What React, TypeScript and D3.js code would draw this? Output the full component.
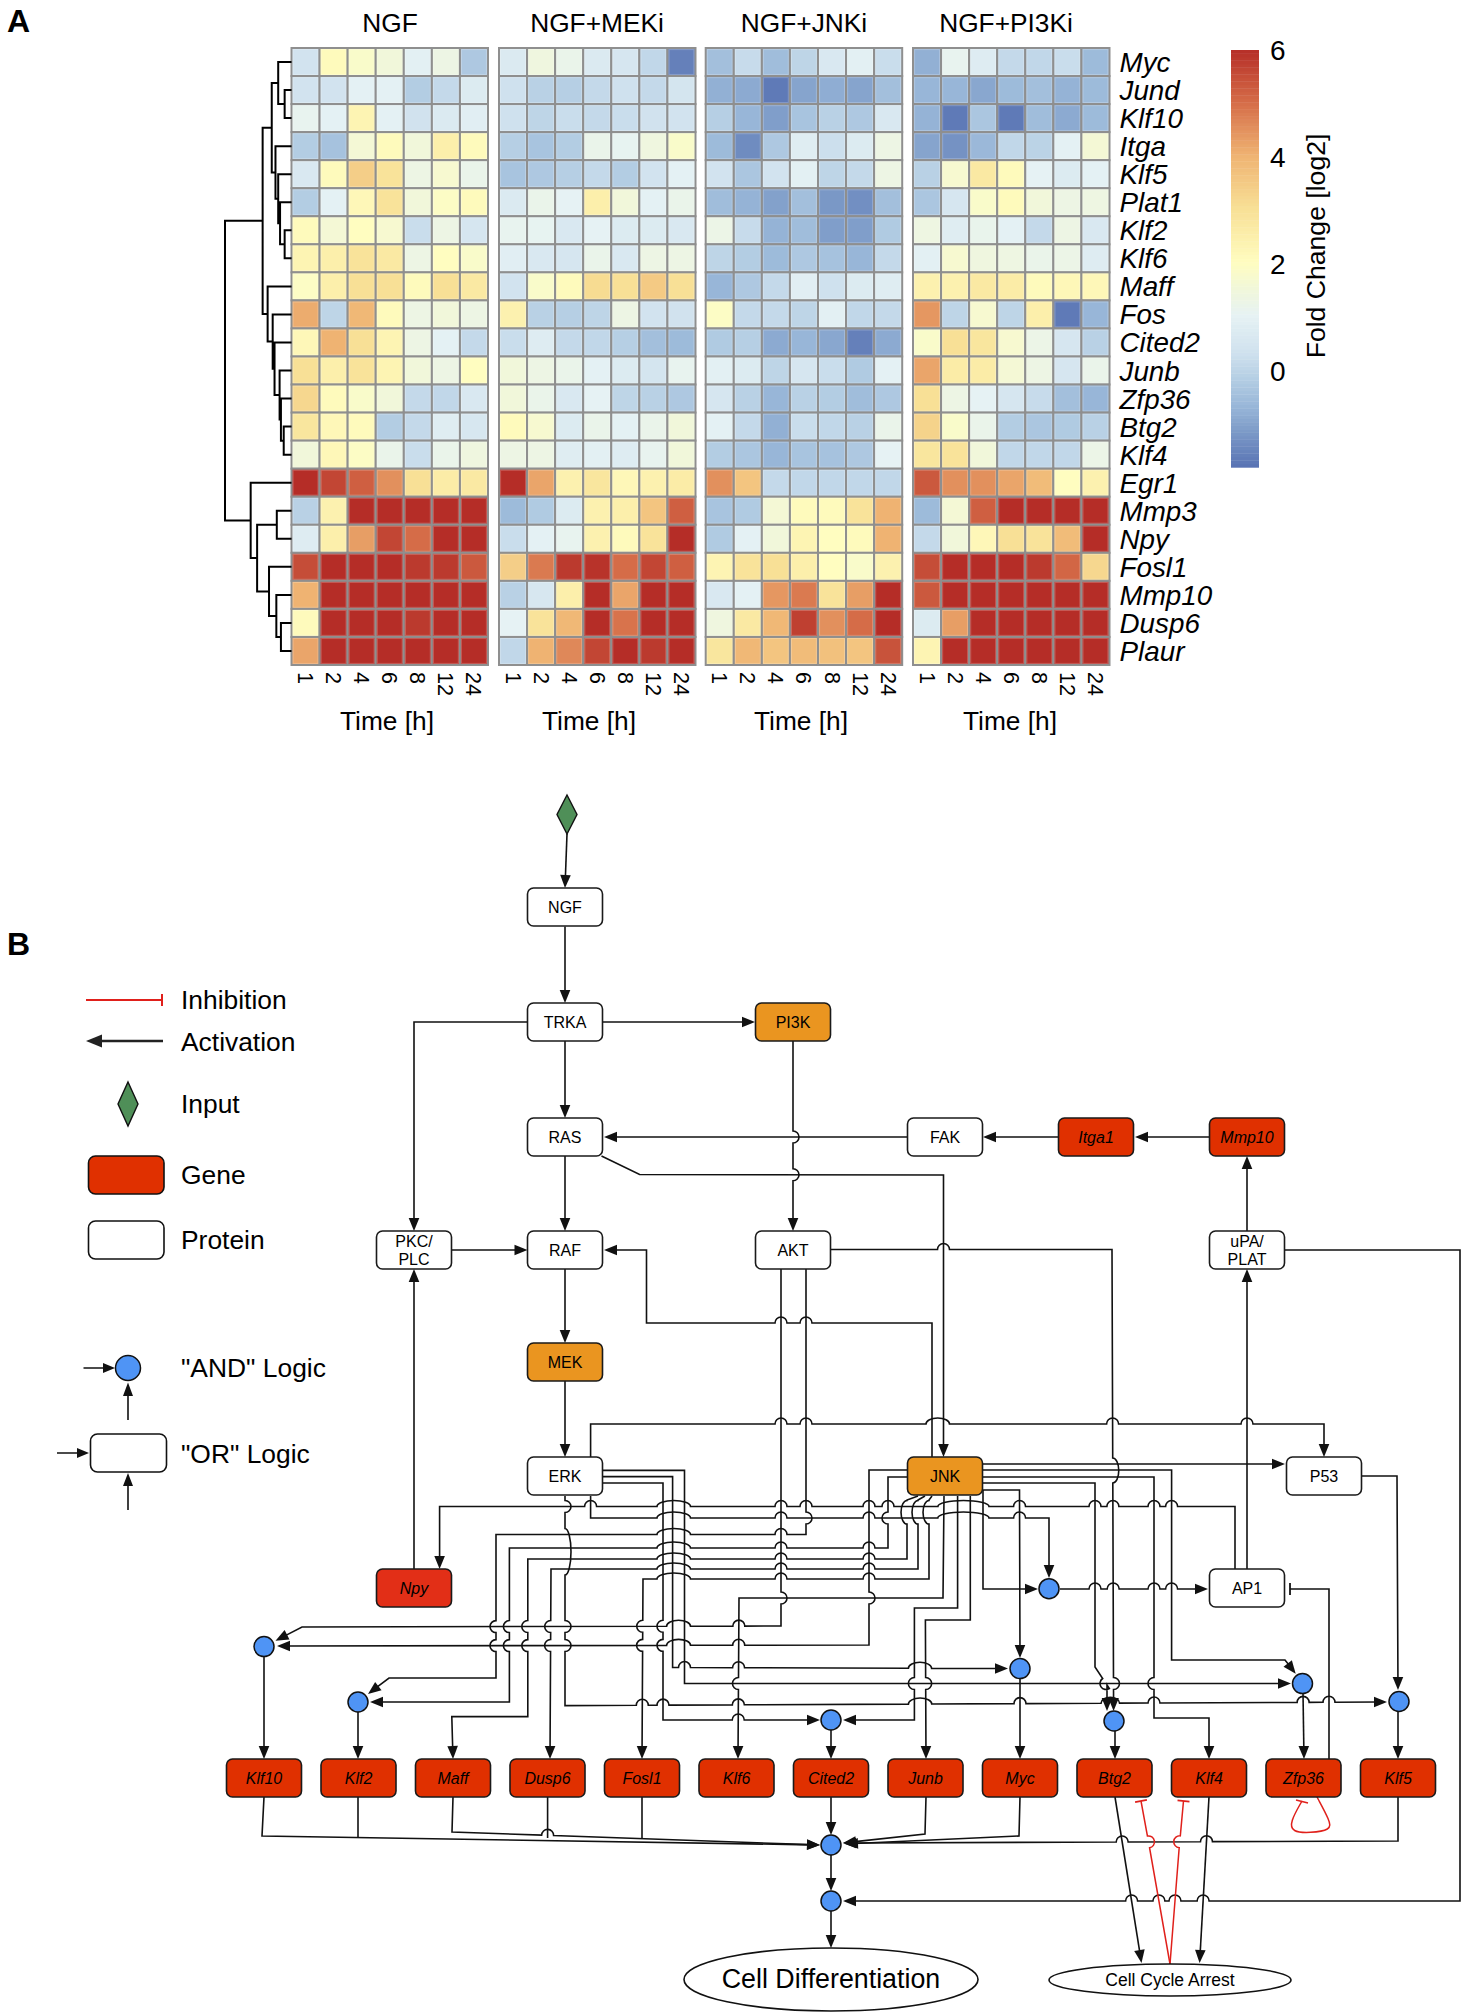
import * as d3 from 'd3'

const FONT = '"Liberation Sans", Arial, sans-serif'

// ---- Panel A data ----
const heatGenes = ['Myc', 'Jund', 'Klf10', 'Itga', 'Klf5', 'Plat1', 'Klf2', 'Klf6', 'Maff', 'Fos', 'Cited2', 'Junb', 'Zfp36', 'Btg2', 'Klf4', 'Egr1', 'Mmp3', 'Npy', 'Fosl1', 'Mmp10', 'Dusp6', 'Plaur']
const timePoints = ['1', '2', '4', '6', '8', '12', '24']
const conditions = ['NGF', 'NGF+MEKi', 'NGF+JNKi', 'NGF+PI3Ki']

const valuesNGF = [
  [0.4, 2.1, 1.8, 1.5, 0.9, 1.3, -0.3],
  [0.4, 0.4, 0.95, 0.95, -0.2, 0.1, 0.7],
  [1.1, 0.95, 2.3, 0.95, 0.35, 0.65, 0.85],
  [-0.2, -0.45, 1.6, 2.1, 1.5, 2.5, 2.1],
  [0.6, 2.1, 3.4, 2.9, 1.3, 1.7, 1.2],
  [-0.2, 0.95, 2.2, 2.9, 1.5, 1.9, 2.1],
  [2.1, 1.6, 2.0, 1.7, 0.2, 1.3, 0.5],
  [2.3, 2.5, 2.9, 2.7, 1.3, 2.0, 1.8],
  [1.9, 2.5, 3.0, 3.0, 2.1, 3.0, 2.7],
  [4.1, 0.0, 3.9, 2.1, 1.3, 1.5, 1.3],
  [2.2, 4.0, 3.0, 2.3, 1.3, 0.95, 0.1],
  [3.0, 2.5, 2.9, 2.3, 1.5, 1.3, 2.0],
  [3.2, 2.1, 1.8, 1.5, 0.1, 0.05, 0.6],
  [2.8, 2.2, 2.1, -0.2, 0.1, 0.8, 0.55],
  [1.5, 2.2, 1.9, 1.2, 0.2, 1.2, 1.4],
  [6, 5.6, 5.2, 4.5, 3.0, 2.6, 2.7],
  [-0.1, 2.4, 6, 6, 6, 6, 6],
  [0.75, 2.5, 4.3, 5.6, 5.0, 6, 6],
  [5.5, 6, 6, 6, 5.8, 5.8, 5.3],
  [4.0, 6, 6, 6, 6, 6, 6],
  [2.1, 6, 6, 6, 5.8, 6, 6],
  [4.2, 6, 6, 6, 6, 6, 6],
]
const valuesMEKi = [
  [0.65, 1.4, 1.2, 0.65, 0.5, 0.05, -1.6],
  [0.3, -0.1, -0.15, 0.1, 0.3, 0.1, 0.45],
  [0.3, 0, 0.2, 0.1, 0.2, 0.35, 0.4],
  [-0.15, -0.4, -0.2, 1.2, 1.05, 1.4, 1.8],
  [-0.4, -0.3, -0.15, 0.1, -0.2, 0.4, 0.95],
  [0.65, 1.2, 1.0, 2.5, 1.5, 0.95, 1.2],
  [1.1, 1.05, 0.6, 1.0, 0.7, 0.7, 0.6],
  [0.85, 0.6, 0.5, 1.2, 0.6, 1.3, 1.3],
  [0.4, 1.8, 2.1, 3.1, 3.0, 3.5, 3.0],
  [2.4, -0.1, -0.15, 0.0, 1.3, 0.4, 0.35],
  [0.2, 0.75, 0.1, 0.05, -0.15, -0.5, -0.6],
  [1.5, 1.3, 1.2, 0.95, 0.7, 0.45, 1.1],
  [1.5, 1.2, 0.6, 1.0, 0.0, -0.1, -0.3],
  [2.1, 1.7, 0.7, 1.2, 0.95, 1.2, 1.5],
  [1.3, 1.3, 0.8, 0.9, 0.75, 1.1, 1.5],
  [6, 4.2, 2.4, 2.8, 2.2, 2.4, 2.6],
  [-0.6, -0.25, 0.7, 2.4, 2.5, 3.6, 5.2],
  [0.2, 0.95, 1.1, 2.4, 2.1, 2.9, 6],
  [3.4, 4.8, 5.8, 5.9, 5.0, 5.6, 5.2],
  [-0.1, 0.55, 2.5, 6, 4.2, 6, 6],
  [1.0, 2.9, 3.9, 6, 4.9, 6, 6],
  [0.05, 4.0, 4.6, 5.6, 6, 5.8, 6],
]
const valuesJNKi = [
  [-0.5, 0.15, -0.55, 0, 0.6, 0.9, 0.2],
  [-0.8, -0.9, -1.7, -1, -0.85, -1, -0.5],
  [-0.15, -0.7, -1.1, -0.4, -0.1, -0.3, 0.6],
  [-0.6, -1.4, -0.3, 0.8, 0.25, 0.7, 1.3],
  [0.4, -0.35, 0.4, 0.9, 0, 0.1, 1.3],
  [-0.55, -0.75, -1.05, -0.5, -1.2, -1.35, -0.5],
  [1.25, 0.15, -0.75, -0.55, -1.1, -1.1, -0.25],
  [0, -0.2, -0.6, -0.3, -0.45, -0.7, 0.1],
  [-0.7, -0.3, 0.1, 0.85, 0.3, 0.7, 0.8],
  [1.9, 0.1, 0.1, 0, 0.9, 0.05, 0.1],
  [-0.25, -0.15, -0.9, -0.7, -0.95, -1.6, -0.9],
  [0.9, 0.7, 0.0, 0.5, 0.2, -0.25, 0.95],
  [0.5, -0.1, -0.7, -0.1, -0.2, -0.55, -0.3],
  [0.95, 0.1, -0.8, 0.2, 0.05, -0.1, 1.2],
  [-0.2, -0.35, -0.7, -0.4, -0.45, -0.3, 1.0],
  [4.5, 3.6, 0.1, 0.05, 0.05, 0.05, 0.05],
  [-0.4, -0.25, 1.6, 2.1, 2.1, 2.9, 4],
  [-0.25, 0.95, 1.5, 2.3, 2.0, 2.1, 4],
  [2.3, 2.9, 3.0, 2.5, 2.0, 1.8, 2.4],
  [0.6, 0.95, 4.4, 4.8, 2.9, 4.3, 6],
  [1.4, 2.7, 3.9, 5.7, 4.5, 5, 6],
  [2.8, 3.9, 3.6, 3.8, 3.7, 3.6, 5.4],
]
const valuesPI3Ki = [
  [-0.8, 1.1, 0.75, 0.1, 0.05, 0.2, -0.6],
  [-0.7, -0.7, -0.95, -0.6, -0.5, -0.75, -0.6],
  [-0.75, -1.7, -0.35, -1.7, -0.55, -0.9, -0.6],
  [-1, -1.3, -0.65, 0.05, -0.05, 0.95, 1.6],
  [-0.1, 1.7, 2.7, 2.1, 1.0, 0.7, 0.95],
  [-0.35, 0.5, 1.8, 2.1, 1.5, 1.3, 1.35],
  [1.35, 0.8, 1.15, 0.95, 0.1, 1.3, 0.6],
  [0.9, 1.7, 1.4, 1.35, 1.2, 1.25, 0.75],
  [2.4, 2.4, 2.7, 2.6, 2.1, 2.2, 2.2],
  [4.4, 0, 1.7, 0.0, 2.5, -1.7, -0.7],
  [1.8, 3.0, 2.8, 1.7, 1.25, 0.5, -0.1],
  [4.2, 2.6, 2.6, 1.6, 1.3, 0.5, 1.2],
  [3.0, 1.3, 1.0, 0.5, 0.15, -0.5, -0.7],
  [3.3, 1.8, 1.2, -0.2, -0.35, -0.25, -0.1],
  [2.8, 2.9, 1.5, 0.05, 0.05, 0.05, 1.25],
  [5.3, 4.5, 4.5, 4.2, 3.8, 2.0, 2.4],
  [-0.6, 1.6, 5.2, 6, 6, 6, 6],
  [0.1, 1.5, 2.2, 3, 2.9, 3.8, 6],
  [5.5, 6, 6, 6, 5.8, 5.1, 3.2],
  [5.3, 6, 6, 6, 6, 6, 6],
  [0.7, 4.3, 6, 6, 6, 6, 6],
  [2.3, 6, 6, 6, 6, 6, 6],
]
const panelValues = [valuesNGF, valuesMEKi, valuesJNKi, valuesPI3Ki]
const panelLeft = [291.5, 499, 705.7, 913]
const titleCentres = [390, 597, 804, 1006]
const timeCentres = [387, 589, 801, 1010]

const colorStops = [-1.8, -1.2, -0.7, -0.2, 0.3, 1, 1.5, 2, 3, 4, 5, 6]
const colorRange = ['#5a74b4', '#7a98c6', '#98b6d8', '#b3cde3', '#cfe1ee', '#e6f2f4', '#f1f7da', '#fffdc0', '#f8e096', '#efb372', '#d56c48', '#b52d27']
const legendTicks = [0, 2, 4, 6]

// tree: [mergeHeight, left, right], leaves are gene names
type Tree = string | [number, Tree, Tree]
const dendrogram: Tree = [1,
  [0.434,
    [0.297,
      [0.2, 'Myc', [0.103, 'Jund', 'Klf10']],
      [0.241, 'Itga', [0.2, 'Klf5', [0.172, 'Plat1', [0.103, 'Klf2', 'Klf6']]]],
    ],
    [0.359, 'Maff', [0.283, 'Fos', [0.255, 'Cited2', [0.179, 'Junb', [0.159, 'Zfp36', [0.117, 'Btg2', 'Klf4']]]]]],
  ],
  [0.614, 'Egr1',
    [0.517,
      [0.221, 'Mmp3', 'Npy'],
      [0.338, 'Fosl1', [0.228, 'Mmp10', [0.159, 'Dusp6', 'Plaur']]],
    ],
  ],
]

// ---- Panel B data ----
const proteinNodes = [
  { name: 'NGF', x: 565, y: 907 }, { name: 'TRKA', x: 565, y: 1022 }, { name: 'RAS', x: 565, y: 1137 },
  { name: 'RAF', x: 565, y: 1250 }, { name: 'ERK', x: 565, y: 1476 }, { name: 'AKT', x: 793, y: 1250 },
  { name: 'FAK', x: 945, y: 1137 }, { name: 'P53', x: 1324, y: 1476 }, { name: 'AP1', x: 1247, y: 1588 },
  { name: 'PKC/|PLC', x: 414, y: 1250 }, { name: 'uPA/|PLAT', x: 1247, y: 1250 },
]
const kinaseNodes = [
  { name: 'PI3K', x: 793, y: 1022 }, { name: 'MEK', x: 565, y: 1362 }, { name: 'JNK', x: 945, y: 1476 },
]
const upperGenes = [
  { name: 'Itga1', x: 1096, y: 1137 }, { name: 'Mmp10', x: 1247, y: 1137 }, { name: 'Npy', x: 414, y: 1588 },
]
const geneRow = ['Klf10', 'Klf2', 'Maff', 'Dusp6', 'Fosl1', 'Klf6', 'Cited2', 'Junb', 'Myc', 'Btg2', 'Klf4', 'Zfp36', 'Klf5']
const andGates = [
  [264, 1646.6], [358, 1702], [831, 1720], [1114, 1721], [1020, 1668.6], [1302.5, 1683.6],
  [1399, 1701.5], [1049, 1588.7], [831, 1845], [831, 1901],
]

type Edge = {
  pts: number[][]
  end?: 'arrow' | 'bar' | 'none'
  red?: boolean
  vjump?: number[][] // [yMin, yMax, side]: vertical part hops over horizontals here
  flat?: number[][] // [yMin, yMax]: nobody hops here
}

const edges: Edge[] = [
  { pts: [[567, 834], [565, 888]] },
  { pts: [[565, 926.5], [565, 1003]] },
  { pts: [[565, 1041], [565, 1118]] },
  { pts: [[603, 1022], [755, 1022]] },
  { pts: [[527.5, 1022], [414, 1022], [414, 1231]] },
  { pts: [[565, 1156], [565, 1231]] },
  { pts: [[452, 1250], [527.5, 1250]] },
  { pts: [[565, 1269], [565, 1343]] },
  { pts: [[565, 1381], [565, 1457]] },
  { pts: [[601.5, 1156], [639.6, 1174.5], [943.5, 1175], [943.5, 1457]] },
  { pts: [[793, 1041], [793, 1231]], vjump: [[1100, 1200, 1]] },
  { pts: [[907, 1137], [604, 1137]] },
  { pts: [[1058, 1137], [983, 1137]] },
  { pts: [[1209, 1137], [1135, 1137]] },
  { pts: [[1247, 1231], [1247, 1156]] },
  { pts: [[1247, 1569], [1247, 1269]] },
  { pts: [[1285, 1250], [1460, 1250], [1460, 1901], [843, 1901]] },
  { pts: [[414, 1569], [414, 1269]] },
  // ERK outputs
  { pts: [[590.6, 1457], [590.6, 1424], [1324, 1424], [1324, 1457]] },
  { pts: [[590.6, 1496], [590.6, 1518], [1049, 1518], [1049, 1578]], flat: [[1570, 1600]] },
  { pts: [[603, 1470.4], [684.5, 1470.4], [684.5, 1683.5], [1291, 1683.5]] },
  { pts: [[603, 1476.6], [672.6, 1476.6], [672.6, 1667.5], [1008, 1668.6]] },
  { pts: [[603, 1483], [663, 1483], [663, 1720], [820, 1720]], vjump: [[1620, 1650, -1]] },
  { pts: [[565, 1496], [565, 1705.6], [1387, 1702]], vjump: [[1500, 1650, 1]] },
  // AP1 to Npy
  { pts: [[1235, 1569], [1235, 1506.5], [439.6, 1506.5], [439.6, 1569]] },
  // AKT
  { pts: [[831, 1249.5], [1112, 1249.5], [1113.6, 1711]], vjump: [[1460, 1490, 1], [1675, 1692, 1]] },
  { pts: [[781, 1269], [781, 1626], [302, 1627], [275.5, 1640.7]], vjump: [[1590, 1606, 1]] },
  { pts: [[806, 1269], [806, 1534.5], [496, 1534.5], [496, 1678], [389, 1678], [368, 1694]], vjump: [[1510, 1525, 1], [1620, 1650, -1]] },
  { pts: [[932, 1457], [932, 1323], [646.5, 1323], [646.5, 1250], [604, 1250]] },
  // JNK outputs
  { pts: [[983, 1464], [1285, 1464]], flat: [[1460, 1468]] },
  { pts: [[983, 1470], [1171.6, 1470], [1171.6, 1660], [1285, 1660], [1295.7, 1673.7]] },
  { pts: [[983, 1477], [1154, 1477], [1154, 1718], [1209, 1718], [1209, 1759]], vjump: [[1675, 1692, -1]] },
  { pts: [[983, 1483], [1095, 1483], [1095, 1667], [1107, 1685], [1107, 1711]], vjump: [[1675, 1692, -1]] },
  { pts: [[983, 1490], [1019.5, 1490], [1020, 1658]] },
  { pts: [[983, 1490], [983, 1589], [1038, 1589]], flat: [[1585, 1593]] },
  { pts: [[907, 1470], [869, 1470], [869, 1645], [277, 1646]], vjump: [[1590, 1606, 1]] },
  { pts: [[907, 1477], [888, 1477], [888, 1548], [509.4, 1548], [509.4, 1702], [370, 1702]], vjump: [[1510, 1525, -1], [1620, 1650, -1]] },
  { pts: [[918, 1496], [907, 1500], [907, 1559], [527.8, 1559], [527.8, 1716.6], [451.8, 1716.6], [453, 1759]], vjump: [[1500, 1525, -1], [1620, 1650, -1]] },
  { pts: [[925, 1496], [918, 1500], [918, 1569], [551, 1569], [550, 1759]], vjump: [[1500, 1525, -1], [1620, 1650, -1]] },
  { pts: [[932, 1496], [929, 1500], [929, 1579], [643, 1579], [642, 1759]], vjump: [[1500, 1525, -1], [1620, 1650, -1]] },
  { pts: [[944, 1496], [943, 1598], [739, 1598], [738, 1759]], vjump: [[1675, 1692, -1]] },
  { pts: [[957.6, 1496], [957.6, 1608], [914.4, 1608], [914.4, 1720], [843, 1720]], vjump: [[1675, 1692, -1]] },
  { pts: [[970.3, 1496], [970.3, 1620], [925.4, 1620], [926, 1759]], vjump: [[1675, 1692, 1]] },
  { pts: [[1060, 1589], [1208, 1589]] },
  { pts: [[1362, 1476], [1397, 1476], [1398, 1690]] },
  { pts: [[1329, 1759], [1329, 1589], [1290, 1589]], end: 'bar' },
  // gates into genes
  { pts: [[264, 1656], [264, 1759]] },
  { pts: [[358, 1712], [358, 1759]] },
  { pts: [[831, 1730], [831, 1759]] },
  { pts: [[1115, 1731], [1115, 1759]] },
  { pts: [[1020, 1678], [1020, 1759]], flat: [[1680, 1688]] },
  { pts: [[1303, 1693], [1304, 1759]] },
  { pts: [[1398, 1711], [1398, 1759]] },
  // genes into the differentiation gate
  { pts: [[264, 1797], [262, 1836], [820, 1845]] },
  { pts: [[358, 1797], [358, 1837]], end: 'none' },
  { pts: [[453, 1797], [452, 1832], [820, 1845]] },
  { pts: [[547.6, 1797], [547.6, 1838]], end: 'none' },
  { pts: [[642, 1797], [642, 1838]], end: 'none' },
  { pts: [[831, 1797], [831, 1835]] },
  { pts: [[926, 1797], [925, 1834], [843, 1843]] },
  { pts: [[1020, 1797], [1019, 1836], [845, 1844]] },
  { pts: [[1398, 1797], [1398, 1841], [843, 1843]] },
  { pts: [[831, 1855], [831, 1891]] },
  { pts: [[831, 1911], [831, 1948]] },
  { pts: [[1115, 1797], [1141.5, 1963]] },
  { pts: [[1209, 1797], [1199.6, 1963]] },
  // inhibition of cell cycle arrest
  { pts: [[1170, 1964], [1149.6, 1848], [1141, 1801]], end: 'bar', red: true, vjump: [[1835, 1850, 1]] },
  { pts: [[1170, 1964], [1179, 1850], [1183.5, 1801]], end: 'bar', red: true, vjump: [[1835, 1850, -1]] },
]
const zfpLoop = [[1317, 1797], [1330, 1821], [1331, 1830], [1310, 1833], [1292, 1832], [1290, 1822], [1302, 1801]]

const legendLabels = [
  { text: 'Inhibition', y: 1009 }, { text: 'Activation', y: 1051 }, { text: 'Input', y: 1113 },
  { text: 'Gene', y: 1184 }, { text: 'Protein', y: 1249 }, { text: '"AND" Logic', y: 1377 }, { text: '"OR" Logic', y: 1463 },
]

// ---- helpers ----
const color = d3.scaleLinear<string>().domain(colorStops).range(colorRange).interpolate(d3.interpolateRgb).clamp(true)

function walkTree(node: Tree, yOf: (g: string) => number, xOf: (h: number) => number, segs: string[]): { x: number; y: number } {
  if (typeof node === 'string') return { x: xOf(0), y: yOf(node) }
  const [h, a, b] = node
  const pa = walkTree(a, yOf, xOf, segs)
  const pb = walkTree(b, yOf, xOf, segs)
  const x = xOf(h)
  segs.push(`M${pa.x},${pa.y}H${x}V${pb.y}H${pb.x}`)
  return { x, y: (pa.y + pb.y) / 2 }
}

const inRange = (ranges: number[][] | undefined, y: number) => (ranges || []).find((r) => y >= r[0] && y <= r[1])

function crossingsFor(index: number) {
  const e = edges[index]
  const result: { seg: number; t: number; side: number }[] = []
  for (let s = 0; s < e.pts.length - 1; s++) {
    const [ax, ay] = e.pts[s]
    const [bx, by] = e.pts[s + 1]
    const adx = bx - ax, ady = by - ay
    const aLen = Math.hypot(adx, ady)
    const aH = Math.abs(adx) >= Math.abs(ady)
    edges.forEach((o, oi) => {
      if (oi === index) return
      for (let k = 0; k < o.pts.length - 1; k++) {
        const [cx, cy] = o.pts[k]
        const [dx, dy] = o.pts[k + 1]
        const odx = dx - cx, ody = dy - cy
        const oLen = Math.hypot(odx, ody)
        const den = adx * ody - ady * odx
        if (Math.abs(den) / (aLen * oLen) < 0.4) continue
        const t = ((cx - ax) * ody - (cy - ay) * odx) / den
        const u = ((cx - ax) * ady - (cy - ay) * adx) / den
        if (t * aLen < 0.5 || (1 - t) * aLen < 0.5 || u * oLen < 0.5 || (1 - u) * oLen < 0.5) continue
        const py = ay + t * ady
        const oH = Math.abs(odx) >= Math.abs(ody)
        let hop = false
        let side = 1
        if (aH === oH) {
          hop = index > oi
        } else if (aH) {
          hop = !inRange(o.vjump, py) && !inRange(o.flat, py) && !inRange(e.flat, py)
        } else {
          const v = inRange(e.vjump, py)
          if (v) { hop = true; side = v[2] }
        }
        if (hop) result.push({ seg: s, t: t * aLen, side })
      }
    })
  }
  return result
}

const HOP = 6
function edgePath(index: number) {
  const e = edges[index]
  const cr = crossingsFor(index)
  let d = `M${e.pts[0][0]},${e.pts[0][1]}`
  for (let s = 0; s < e.pts.length - 1; s++) {
    const [ax, ay] = e.pts[s]
    let [bx, by] = e.pts[s + 1]
    const len = Math.hypot(bx - ax, by - ay)
    const ux = (bx - ax) / len, uy = (by - ay) / len
    const isLast = s === e.pts.length - 2
    if (isLast && e.end !== 'none' && e.end !== 'bar') { bx -= ux * 10; by -= uy * 10 }
    const horizontal = Math.abs(ux) >= Math.abs(uy)
    const list = cr.filter((c) => c.seg === s).sort((p, q) => p.t - q.t)
    const clusters: { from: number; to: number; side: number }[] = []
    list.forEach((c) => {
      const last = clusters[clusters.length - 1]
      if (last && c.t - last.to < 15) last.to = c.t
      else clusters.push({ from: c.t, to: c.t, side: c.side })
    })
    clusters.forEach((c) => {
      const t0 = c.from - HOP, t1 = c.to + HOP
      const nx = horizontal ? 0 : c.side, ny = horizontal ? -1 : 0
      const sweep = ux * ny - uy * nx < 0 ? 1 : 0
      const angle = (Math.atan2(uy, ux) * 180) / Math.PI
      d += `L${ax + ux * t0},${ay + uy * t0}A${(t1 - t0) / 2},${HOP} ${angle} 0 ${sweep} ${ax + ux * t1},${ay + uy * t1}`
    })
    d += `L${bx},${by}`
  }
  return d
}

function edgeEnd(e: Edge) {
  const n = e.pts.length
  const [ax, ay] = e.pts[n - 2]
  const [bx, by] = e.pts[n - 1]
  const len = Math.hypot(bx - ax, by - ay)
  const ux = (bx - ax) / len, uy = (by - ay) / len
  if (e.end === 'none') return ''
  if (e.end === 'bar') {
    return `M${bx - uy * 6},${by + ux * 6}L${bx + uy * 6},${by - ux * 6}`
  }
  const L = 13, W = 5.3
  return `M${bx},${by}L${bx - ux * L - uy * W},${by - uy * L + ux * W}L${bx - ux * L + uy * W},${by - uy * L - ux * W}Z`
}

function BoxNode({ name, x, y, fill, italic }: { name: string; x: number; y: number; fill: string; italic?: boolean }) {
  const lines = name.split('|')
  return (
    <g>
      <rect x={x - 37.5} y={y - 19} width={75} height={38} rx={6} fill={fill} stroke="#1a1a1a" strokeWidth={1.6} />
      {lines.map((t, i) => (
        <text key={t} x={x} y={y + 6 + (i - (lines.length - 1) / 2) * 18} textAnchor="middle" fontSize={16} fontStyle={italic ? 'italic' : 'normal'}>{t}</text>
      ))}
    </g>
  )
}

function HeatPanel({ index }: { index: number }) {
  const left = panelLeft[index]
  const x = d3.scaleBand().domain(timePoints).range([left, left + 196.5])
  const y = d3.scaleBand().domain(heatGenes).range([48, 665])
  return (
    <g>
      {panelValues[index].map((row, r) => row.map((v, c) => (
        <g key={`${r}-${c}`}>
          <rect x={x(timePoints[c])} y={y(heatGenes[r])} width={x.bandwidth()} height={y.bandwidth()} fill={color(v)} stroke="#8f8f8f" strokeWidth={2} />
          <rect x={x(timePoints[c])! + 1.6} y={y(heatGenes[r])! + 1.6} width={x.bandwidth() - 3.2} height={y.bandwidth() - 3.2} fill="none" stroke="#fff" strokeOpacity={0.22} strokeWidth={1} />
        </g>
      )))}
      {timePoints.map((t) => (
        <text key={t} transform={`translate(${x(t)! + x.bandwidth() / 2 - 7.5},672) rotate(90)`} fontSize={21.5}>{t}</text>
      ))}
      <text x={titleCentres[index]} y={32} textAnchor="middle" fontSize={26.3}>{conditions[index]}</text>
      <text x={timeCentres[index]} y={730} textAnchor="middle" fontSize={26.3}>Time [h]</text>
    </g>
  )
}

export default function App() {
  const yRow = d3.scaleBand().domain(heatGenes).range([48, 665])
  const treeX = d3.scaleLinear().domain([0, 1]).range([291.5, 225])
  const treeSegs: string[] = []
  walkTree(dendrogram, (g) => yRow(g)! + yRow.bandwidth() / 2, treeX, treeSegs)

  const barY = d3.scaleLinear().domain([0, 6]).range([371, 50])
  const barSteps = d3.range(-1.8, 6, 0.065)

  const geneX = d3.scalePoint().domain(geneRow).range([264, 1398])
  const loop = d3.line().curve(d3.curveBasis)(zfpLoop as [number, number][]) as string

  return (
    <svg width={1464} height={2014} style={{ display: 'block', position: 'absolute', left: 0, top: 0 }} fontFamily={FONT} fill="#000">
      <rect width={1464} height={2014} fill="#fff" />
      <text x={7} y={32} fontSize={32} fontWeight="bold">A</text>
      <text x={7} y={955} fontSize={32} fontWeight="bold">B</text>

      {/* heatmaps */}
      {conditions.map((c, i) => <HeatPanel key={c} index={i} />)}
      <path d={treeSegs.join('')} fill="none" stroke="#000" strokeWidth={2} />
      {heatGenes.map((g) => (
        <text key={g} x={1119.5} y={yRow(g)! + yRow.bandwidth() / 2 + 10} fontSize={27.8} fontStyle="italic">{g}</text>
      ))}

      {/* colour key */}
      {barSteps.map((v) => (
        <rect key={v} x={1231} y={barY(v + 0.065)} width={28} height={barY(v) - barY(v + 0.065) + 0.4} fill={color(v)} />
      ))}
      {legendTicks.map((t) => (
        <text key={t} x={1270} y={barY(t) + 10} fontSize={28}>{t}</text>
      ))}
      <text transform="translate(1325,246) rotate(-90)" textAnchor="middle" fontSize={26.6}>Fold Change [log2]</text>

      {/* network */}
      {edges.map((e, i) => (
        <g key={i} stroke={e.red ? '#e0201b' : '#111'} fill="none">
          <path d={edgePath(i)} strokeWidth={e.red ? 1.5 : 1.6} />
          {e.end === 'bar'
            ? <path d={edgeEnd(e)} strokeWidth={1.8} />
            : <path d={edgeEnd(e)} fill="#111" stroke="none" />}
        </g>
      ))}
      <path d={loop} fill="none" stroke="#e0201b" strokeWidth={1.5} />
      <path d="M1296,1800L1308,1803" fill="none" stroke="#e0201b" strokeWidth={1.6} />

      <path d={`M567,795L577,814.5L567,834L557,814.5Z`} fill="#4f8f58" stroke="#111" strokeWidth={1.4} />
      {proteinNodes.map((n) => <BoxNode key={n.name} {...n} fill="#fff" />)}
      {kinaseNodes.map((n) => <BoxNode key={n.name} {...n} fill="#ea9520" />)}
      {upperGenes.map((n) => <BoxNode key={n.name} {...n} fill={n.name === 'Npy' ? '#e22f17' : '#e03000'} italic />)}
      {geneRow.map((g) => <BoxNode key={g} name={g} x={geneX(g)!} y={1778} fill="#e03000" italic />)}
      {andGates.map(([x, y], i) => (
        <circle key={i} cx={x} cy={y} r={10} fill="#4f94f5" stroke="#111" strokeWidth={1.5} />
      ))}

      <ellipse cx={831} cy={1979.5} rx={147} ry={31.5} fill="#fff" stroke="#111" strokeWidth={1.6} />
      <text x={831} y={1988} textAnchor="middle" fontSize={26.8}>Cell Differentiation</text>
      <ellipse cx={1170} cy={1980} rx={121} ry={16} fill="#fff" stroke="#111" strokeWidth={1.6} />
      <text x={1170} y={1986} textAnchor="middle" fontSize={17.5}>Cell Cycle Arrest</text>

      {/* legend */}
      <path d="M86,1000H162M162,994V1006" fill="none" stroke="#e0201b" strokeWidth={2} />
      <path d="M100,1041H163" fill="none" stroke="#222" strokeWidth={2.4} />
      <path d="M86,1041L102,1034.5V1047.5Z" fill="#222" />
      <path d="M128,1082L138,1104L128,1126L118,1104Z" fill="#4f8f58" stroke="#111" strokeWidth={1.4} />
      <rect x={88.5} y={1156} width={75.5} height={38} rx={7} fill="#e03000" stroke="#111" strokeWidth={1.6} />
      <rect x={88.5} y={1221} width={75.5} height={38} rx={7} fill="#fff" stroke="#111" strokeWidth={1.6} />
      <circle cx={128} cy={1368} r={12.5} fill="#4f94f5" stroke="#111" strokeWidth={1.5} />
      <path d="M83.5,1368H104M128,1420V1396" fill="none" stroke="#111" strokeWidth={1.6} />
      <path d="M115,1368L103,1363V1373ZM128,1382.5L123,1396H133Z" fill="#111" />
      <rect x={90.5} y={1434} width={76} height={38} rx={7} fill="#fff" stroke="#111" strokeWidth={1.6} />
      <path d="M57,1453H78M128,1510V1486" fill="none" stroke="#111" strokeWidth={1.6} />
      <path d="M89,1453L77,1448V1458ZM128,1473L123,1486H133Z" fill="#111" />
      {legendLabels.map((l) => (
        <text key={l.text} x={181} y={l.y} fontSize={26.4}>{l.text}</text>
      ))}
    </svg>
  )
}
